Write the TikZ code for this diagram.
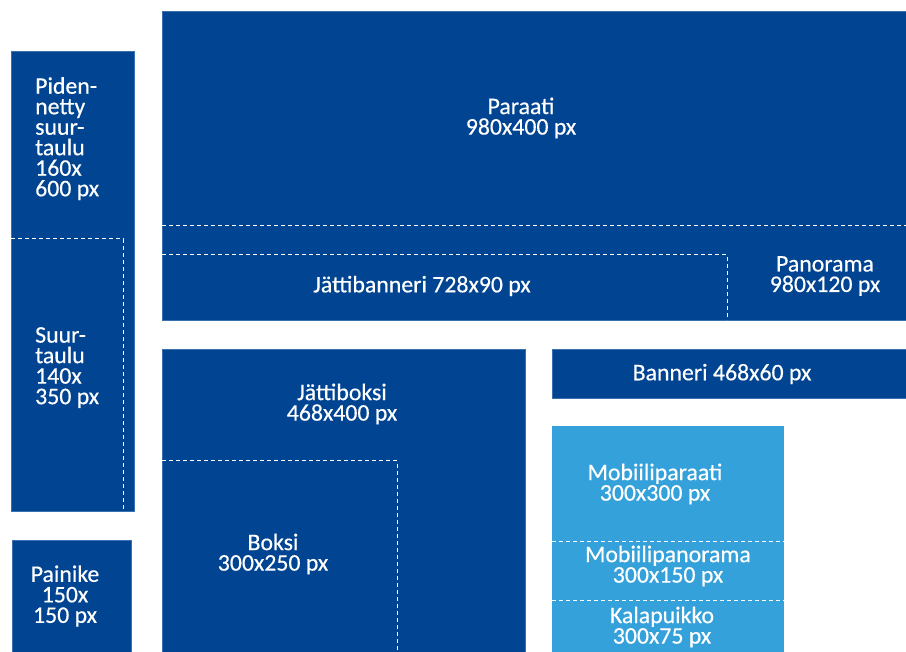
\documentclass[tikz,border=0pt]{standalone}
\usepackage{fontspec}
\setmainfont{Carlito}[FakeBold=0.4]
\definecolor{darkblue}{HTML}{004492}
\definecolor{lightblue}{HTML}{35A1DA}
\definecolor{edgeblue}{HTML}{3A6FB0}
\begin{document}
\begin{tikzpicture}[x=1pt,y=-1pt,
  dbox/.style={fill=darkblue,draw=edgeblue,line width=0.6pt},
  lbox/.style={fill=lightblue},
  dashline/.style={draw=white,line width=1pt,dash pattern=on 4pt off 3pt},
  lbl/.style={text=white,font=\fontsize{23.8}{20.5}\selectfont,align=center,inner sep=0pt},
  lbll/.style={text=white,font=\fontsize{23.8}{20.5}\selectfont,align=left,inner sep=0pt}]
\useasboundingbox (0,0) rectangle (906,652);
% boxes
\path[dbox] (162,11) rectangle (910,320);
\path[dbox] (11,51) rectangle (134,511);
\path[dbox] (12,540) rectangle (131,656);
\path[dbox] (162,349) rectangle (525,656);
\path[dbox] (552,349) rectangle (910,398);
\path[lbox] (552,426) rectangle (784,656);
% dashed sub-areas
\draw[dashline] (162,226) -- (906,226);
\draw[dashline] (162,255) -- (727,255) -- (727,320);
\draw[dashline] (11,239) -- (123,239) -- (123,511);
\draw[dashline] (162,461) -- (397,461) -- (397,652);
\draw[dashline] (552,541) -- (784,541);
\draw[dashline] (552,600) -- (784,600);
% labels
\node[lbl] (paraati) at (521,118) {Paraati\\980x400 px};
\node[lbl] (jattibanneri) at (422,286) {Jättibanneri 728x90 px};
\node[lbl] (panorama) at (825,276) {Panorama\\980x120 px};
\node[lbll,anchor=north west] (pidennetty) at (35,77) {Piden-\\netty\\suur-\\taulu\\160x\\600 px};
\node[lbll,anchor=north west] (suurtaulu) at (35,327) {Suur-\\taulu\\140x\\350 px};
\node[lbl] (painike) at (65,596) {Painike\\150x\\150 px};
\node[lbl] (jattiboksi) at (342,404) {Jättiboksi\\468x400 px};
\node[lbl] (boksi) at (273,554) {Boksi\\300x250 px};
\node[lbl] (banneri) at (722,374) {Banneri 468x60 px};
\node[lbl] (mobparaati) at (655,484) {Mobiiliparaati\\300x300 px};
\node[lbl] (mobpanorama) at (668,566) {Mobiilipanorama\\300x150 px};
\node[lbl] (kalapuikko) at (662,627) {Kalapuikko\\300x75 px};
\end{tikzpicture}
\end{document}
